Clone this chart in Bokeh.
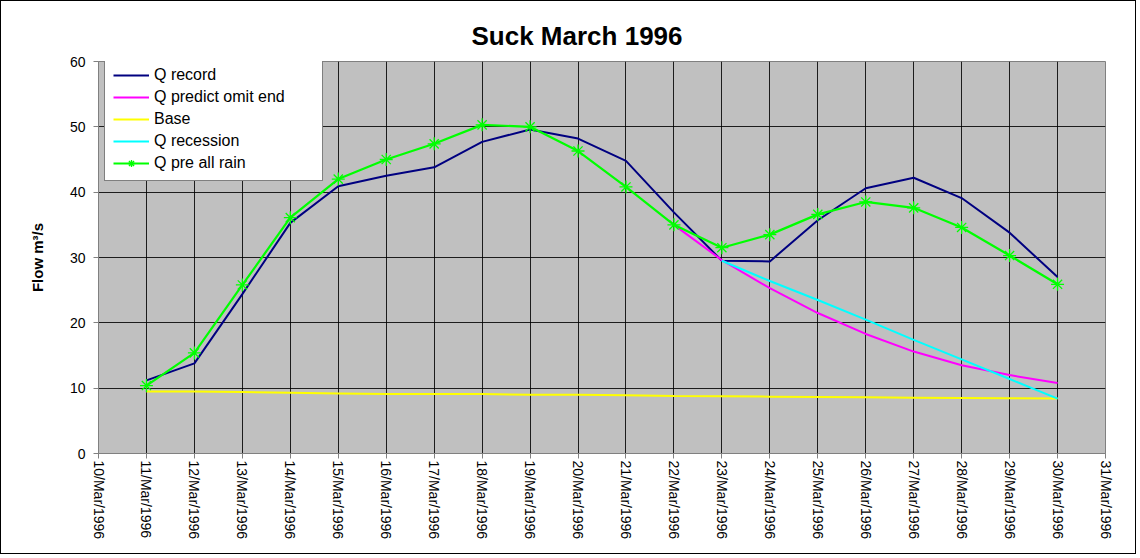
import math
from bokeh.plotting import figure
from bokeh.models import FixedTicker, Legend, LegendItem, Range1d
from bokeh.embed import file_html
from bokeh.resources import INLINE

# ---- data ----
days = list(range(11, 31))                      # day of March 1996
q_record = [11.2, 13.8, 24.4, 35.3, 40.9, 42.5, 43.8, 47.7, 49.6, 48.2,
            44.8, 36.9, 29.5, 29.4, 35.7, 40.6, 42.2, 39.1, 33.8, 27.0]
q_pre_all_rain = [10.4, 15.4, 25.8, 36.1, 42.0, 45.0, 47.4, 50.3, 50.0, 46.3,
                  40.8, 35.0, 31.5, 33.5, 36.6, 38.5, 37.6, 34.6, 30.3, 25.9]
base = [9.5, 9.5, 9.4, 9.3, 9.2, 9.1, 9.1, 9.1, 9.0, 9.0,
        8.9, 8.8, 8.75, 8.7, 8.65, 8.6, 8.55, 8.5, 8.45, 8.4]
predict_days = list(range(22, 31))
q_predict_omit_end = [35.0, 29.6, 25.3, 21.5, 18.3, 15.6, 13.5, 12.0, 10.8]
recession_days = list(range(23, 31))
q_recession = [29.5, 26.4, 23.5, 20.5, 17.4, 14.4, 11.4, 8.4]
tick_days = list(range(10, 32))
tick_labels = ["%d/Mar/1996" % d for d in tick_days]
y_ticks = [0, 10, 20, 30, 40, 50, 60]

FONT = "Liberation Sans"

p = figure(width=1136, height=554, output_backend="svg", toolbar_location=None,
           x_range=Range1d(10, 31), y_range=Range1d(0, 60),
           min_border_left=97, min_border_right=32, min_border_top=60,
           min_border_bottom=102)
p.styles = {"border": "1px solid black"}

p.title.text = "Suck March 1996"
p.title.align = "left"
p.title.offset = 373
p.title.text_font = FONT
p.title.text_font_size = "26px"
p.title.text_font_style = "bold"
p.title.text_color = "black"
p.title.standoff = 21

p.background_fill_color = "#c0c0c0"
p.border_fill_color = "white"
p.outline_line_color = "#808080"
p.outline_line_width = 1

# axes
p.xaxis.ticker = FixedTicker(ticks=tick_days)
p.xaxis.major_label_overrides = {d: lab for d, lab in zip(tick_days, tick_labels)}
p.xaxis.major_label_orientation = -math.pi / 2
p.yaxis.ticker = FixedTicker(ticks=y_ticks)
for ax in (p.xaxis, p.yaxis):
    ax.major_label_text_font = FONT
    ax.major_label_text_font_size = "14px"
    ax.major_label_text_color = "black"
    ax.axis_line_color = "#808080"
    ax.major_tick_line_color = "#808080"
    ax.major_tick_in = 0
    ax.major_tick_out = 5
    ax.minor_tick_line_color = None
p.xaxis.major_label_standoff = 2
p.yaxis.major_label_standoff = 8
p.yaxis.axis_label = "Flow m³/s"
p.yaxis.axis_label_text_font = FONT
p.yaxis.axis_label_text_font_size = "15px"
p.yaxis.axis_label_text_font_style = "bold"
p.yaxis.axis_label_text_color = "black"
p.yaxis.axis_label_standoff = 21

p.xgrid.grid_line_color = "black"
p.ygrid.grid_line_color = "black"
p.xgrid.grid_line_alpha = 0.85
p.ygrid.grid_line_alpha = 0.85

# series
r_rec = p.line(days, q_record, line_color="#000080", line_width=2)
r_pred = p.line(predict_days, q_predict_omit_end, line_color="#ff00ff", line_width=2)
r_base = p.line(days, base, line_color="#ffff00", line_width=2)
r_ress = p.line(recession_days, q_recession, line_color="#00ffff", line_width=2)
r_pre = p.line(days, q_pre_all_rain, line_color="#00ff00", line_width=2.2)
r_pre_m = p.scatter(days, q_pre_all_rain, marker="asterisk", size=13,
                    line_color="#00ff00", line_width=1.3)

legend = Legend(items=[
    LegendItem(label="Q record", renderers=[r_rec]),
    LegendItem(label="Q predict omit end", renderers=[r_pred]),
    LegendItem(label="Base", renderers=[r_base]),
    LegendItem(label="Q recession", renderers=[r_ress]),
    LegendItem(label="Q pre all rain", renderers=[r_pre, r_pre_m]),
])
legend.location = (6, 272)
legend.margin = 0
legend.padding = 8
legend.spacing = 4
legend.label_height = 18
legend.glyph_height = 18
legend.glyph_width = 36
legend.label_width = 160
legend.label_standoff = 5
legend.label_text_font = FONT
legend.label_text_font_size = "16px"
legend.label_text_color = "black"
legend.border_line_color = "black"
legend.border_line_width = 1
legend.background_fill_color = "white"
legend.background_fill_alpha = 1
p.add_layout(legend)

open("out.html", "w").write(file_html(p, INLINE))
